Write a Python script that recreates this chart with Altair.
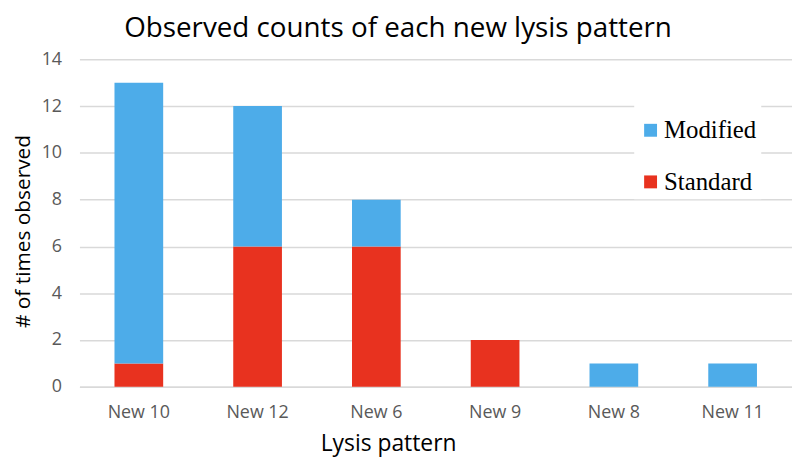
import altair as alt
import pandas as pd

patterns = ["New 10", "New 12", "New 6", "New 9", "New 8", "New 11"]
standard = [1, 6, 6, 2, 0, 0]
modified = [12, 6, 2, 0, 1, 1]
series = ["Modified", "Standard"]
colors = ["#4DACE9", "#E8321F"]
y_ticks = [0, 2, 4, 6, 8, 10, 12, 14]

rows = []
for p, s, m in zip(patterns, standard, modified):
    rows.append({"pattern": p, "series": "Standard", "count": s, "ord": 0})
    rows.append({"pattern": p, "series": "Modified", "count": m, "ord": 1})
df = pd.DataFrame(rows)
df = df[df["count"] > 0]

font = "Open Sans"

chart = alt.Chart(df).mark_bar().encode(
    x=alt.X("pattern:N", sort=patterns,
            scale=alt.Scale(paddingInner=0.59, paddingOuter=0.295),
            axis=alt.Axis(title="Lysis pattern", labelAngle=0, ticks=False,
                          domain=True, domainColor="#D9D9D9", domainWidth=1.5,
                          labelFont=font, labelFontSize=18, labelColor="#595959",
                          labelPadding=17, titleFont=font, titleFontSize=23,
                          titleFontWeight="normal", titleColor="#000000",
                          titleX=311, titleY=64, titleBaseline="alphabetic",
                          titleAnchor="start", titleAlign="center")),
    y=alt.Y("count:Q", stack="zero",
            scale=alt.Scale(domain=[0, 14], nice=False),
            axis=alt.Axis(title="# of times observed", values=y_ticks,
                          ticks=False, domain=False, grid=True,
                          gridColor="#D9D9D9", gridWidth=1.5,
                          labelFont=font, labelFontSize=18, labelColor="#595959",
                          labelPadding=18, titleFont=font, titleFontSize=21,
                          titleFontWeight="normal", titleColor="#000000",
                          titleX=-50, titleY=173, titleBaseline="alphabetic",
                          titleAngle=270)),
    color=alt.Color("series:N", scale=alt.Scale(domain=series, range=colors),
                    legend=alt.Legend(title=" ", titleFontSize=8, titlePadding=4,
                                      orient="none", legendX=559, legendY=43,
                                      fillColor="white", padding=4,
                                      symbolType="square", symbolSize=169,
                                      symbolStrokeWidth=0, symbolOpacity=1,
                                      labelFont="Liberation Serif",
                                      labelFontSize=25, labelColor="#000000",
                                      labelOffset=1, rowPadding=26)),
    order=alt.Order("ord:Q"),
).properties(
    width=718, height=330,
    title=alt.TitleParams("Observed counts of each new lysis pattern",
                          font=font, fontSize=28, fontWeight="normal",
                          color="#000000", anchor="middle", dx=-38, dy=-3),
    autosize=alt.AutoSizeParams(type="none"),
    padding={"left": 72, "top": 50, "right": 0, "bottom": 69},
).configure_view(stroke=None)

chart.save("out.html", embed_options={"renderer": "svg", "actions": False})
